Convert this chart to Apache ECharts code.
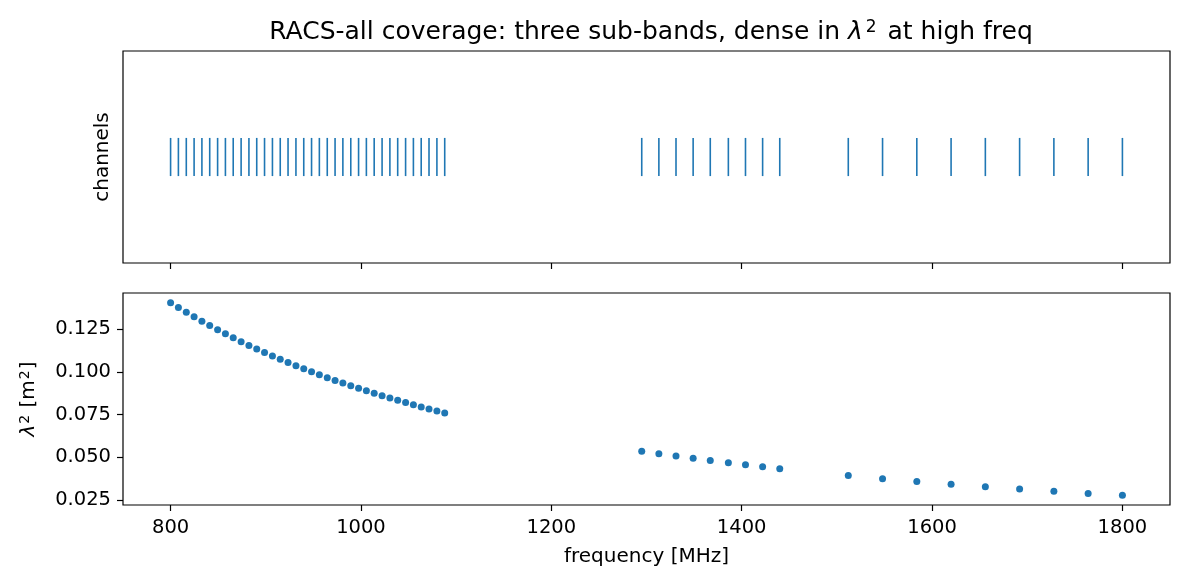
<!DOCTYPE html>
<html>
<head>
<meta charset="utf-8">
<script src="https://cdn.jsdelivr.net/npm/echarts@6/dist/echarts.min.js"></script>
<style>
  html, body { margin: 0; padding: 0; background: #fff; }
  #chart { width: 1185px; height: 585px; }
</style>
</head>
<body>
<div id="chart"></div>
<script>
// channel centre frequencies, MHz (three sub-bands)
var freqLow = [800.0, 808.2, 816.5, 824.7, 832.9, 841.1, 849.4, 857.6, 865.8, 874.1, 882.3, 890.5,
    898.7, 907.0, 915.2, 923.4, 931.7, 939.9, 948.1, 956.3, 964.6, 972.8, 981.0, 989.3,
    997.5, 1005.7, 1013.9, 1022.2, 1030.4, 1038.6, 1046.9, 1055.1, 1063.3, 1071.5, 1079.8, 1088.0];
var freqMid = [1295, 1313, 1331, 1349, 1367, 1386, 1404, 1422, 1440];
var freqHigh = [1512, 1548, 1584, 1620, 1656, 1692, 1728, 1764, 1800];

// lambda^2 per channel, m^2
var lam2Low = [0.14043, 0.13760, 0.13481, 0.13215, 0.12956, 0.12704, 0.12457, 0.12220, 0.11990,
    0.11763, 0.11545, 0.11334, 0.11128, 0.10925, 0.10730, 0.10540, 0.10353, 0.10174,
    0.09998, 0.09828, 0.09659, 0.09497, 0.09339, 0.09183, 0.09033, 0.08886, 0.08743,
    0.08601, 0.08465, 0.08332, 0.08200, 0.08073, 0.07949, 0.07828, 0.07708, 0.07592];
var lam2Mid = [0.05359, 0.05213, 0.05073, 0.04939, 0.04810, 0.04679, 0.04559, 0.04445, 0.04334];
var lam2High = [0.03931, 0.03751, 0.03582, 0.03425, 0.03277, 0.03139, 0.03010, 0.02888, 0.02774];

// tick labels
var freqTicks = [800, 1000, 1200, 1400, 1600, 1800];
var lam2Ticks = [0.025, 0.050, 0.075, 0.100, 0.125];

var blue = '#1f77b4';
var font = 'DejaVu Sans';

var freqs = freqLow.concat(freqMid, freqHigh);
var lam2 = lam2Low.concat(lam2Mid, lam2High);

var eventData = [];   // [freq, bottom, top] of each channel stroke
var pointData = [];
for (var i = 0; i < freqs.length; i++) {
    eventData.push([freqs[i], 0.41, 0.59]);
    pointData.push([freqs[i], lam2[i]]);
}

var chart = echarts.init(document.getElementById('chart'), null, { renderer: 'canvas' });

function xAxisCfg(idx, withLabels) {
    return {
        type: 'value',
        gridIndex: idx,
        min: 750,
        max: 1850,
        axisLine: { show: false },
        axisTick: {
            show: true, inside: false, length: 6,
            lineStyle: { color: '#000', width: 1.2 },
            customValues: freqTicks
        },
        axisLabel: {
            show: withLabels, margin: 13,
            color: '#000', fontFamily: font, fontSize: 19.5,
            customValues: freqTicks,
            formatter: function (v) { return String(v); }
        },
        splitLine: { show: false },
        name: withLabels ? 'frequency [MHz]' : '',
        nameLocation: 'middle',
        nameGap: 42,
        nameTextStyle: { color: '#000', fontFamily: font, fontSize: 20 }
    };
}

var option = {
    backgroundColor: '#fff',
    animation: false,
    title: {
        text: 'RACS-all coverage: three sub-bands, dense in {i|λ}{s|2} at high freq',
        left: 646,
        textAlign: 'center',
        top: 14,
        textStyle: {
            color: '#000', fontFamily: font, fontSize: 25, fontWeight: 'normal',
            rich: {
                i: { fontFamily: font, fontSize: 25, fontStyle: 'italic', color: '#000' },
                s: { fontFamily: font, fontSize: 17, color: '#000', verticalAlign: 'top', padding: [0, 3, 9, 3] }
            }
        }
    },
    grid: [
        { left: 123, top: 51, width: 1047, height: 212, show: true, borderColor: '#000', borderWidth: 1.2, backgroundColor: 'transparent' },
        { left: 123, top: 293, width: 1047, height: 212, show: true, borderColor: '#000', borderWidth: 1.2, backgroundColor: 'transparent' }
    ],
    xAxis: [xAxisCfg(0, false), xAxisCfg(1, true)],
    yAxis: [
        {
            type: 'value',
            gridIndex: 0,
            min: 0,
            max: 1,
            axisLine: { show: false },
            axisTick: { show: false },
            axisLabel: { show: false },
            splitLine: { show: false },
            name: 'channels',
            nameLocation: 'middle',
            nameGap: 10,
            nameTextStyle: { color: '#000', fontFamily: font, fontSize: 20 }
        },
        {
            type: 'value',
            gridIndex: 1,
            min: 0.0221,
            max: 0.1461,
            axisLine: { show: false },
            axisTick: {
                show: true, inside: false, length: 6,
                lineStyle: { color: '#000', width: 1.2 },
                customValues: lam2Ticks
            },
            axisLabel: {
                margin: 12,
                color: '#000', fontFamily: font, fontSize: 19.5,
                customValues: lam2Ticks,
                formatter: function (v) { return v.toFixed(3); }
            },
            splitLine: { show: false },
            name: '{i|λ}{s|2} [m{s|2}]',
            nameLocation: 'middle',
            nameGap: 84,
            nameTextStyle: {
                color: '#000', fontFamily: font, fontSize: 20,
                rich: {
                    i: { fontFamily: font, fontSize: 20, fontStyle: 'italic', color: '#000' },
                    s: { fontFamily: font, fontSize: 14, color: '#000', verticalAlign: 'top', padding: [0, 1, 7, 1] }
                }
            }
        }
    ],
    series: [
        {
            type: 'custom',
            xAxisIndex: 0,
            yAxisIndex: 0,
            data: eventData,
            renderItem: function (params, api) {
                var a = api.coord([api.value(0), api.value(1)]);
                var b = api.coord([api.value(0), api.value(2)]);
                return {
                    type: 'line',
                    shape: { x1: a[0], y1: a[1], x2: b[0], y2: b[1] },
                    style: { stroke: blue, lineWidth: 1.6 }
                };
            }
        },
        {
            type: 'scatter',
            xAxisIndex: 1,
            yAxisIndex: 1,
            data: pointData,
            symbol: 'circle',
            symbolSize: 7,
            itemStyle: { color: blue, opacity: 1 }
        }
    ]
};

chart.setOption(option);
</script>
</body>
</html>
